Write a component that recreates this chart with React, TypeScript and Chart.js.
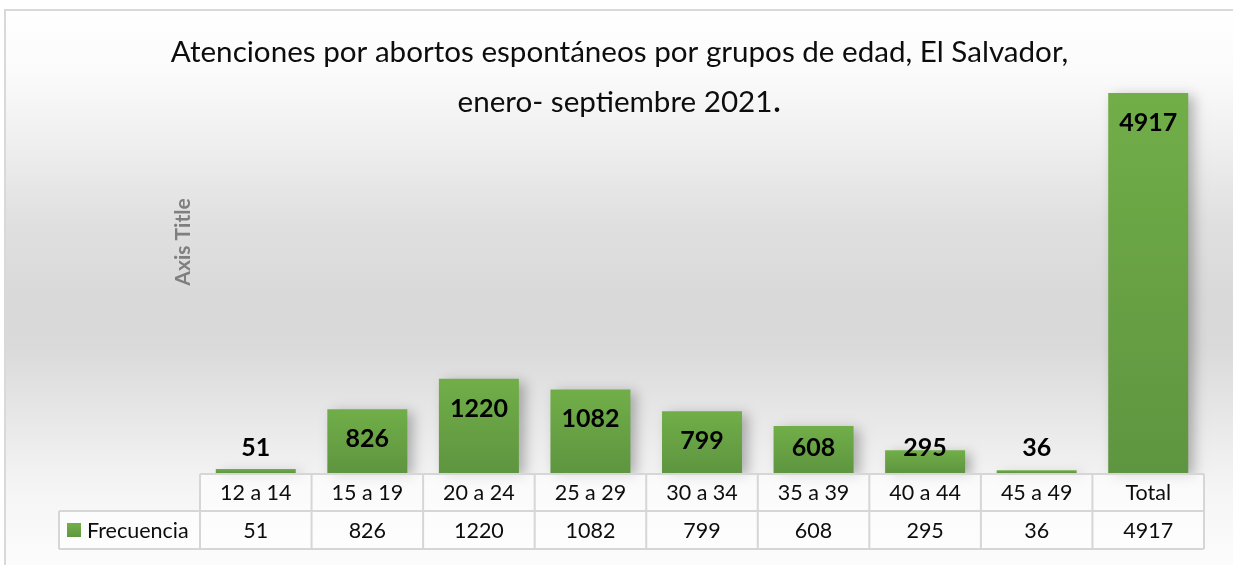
import React, { useEffect, useRef } from 'react';
import { Chart, registerables } from 'chart.js';

Chart.register(...registerables);

const categories = ['12 a 14', '15 a 19', '20 a 24', '25 a 29', '30 a 34', '35 a 39', '40 a 44', '45 a 49', 'Total'];
const frecuencia = [51, 826, 1220, 1082, 799, 608, 295, 36, 4917];
const seriesLabel = 'Frecuencia';
const titleLines = ['Atenciones por abortos espontáneos por grupos de edad, El Salvador,', 'enero- septiembre 2021'];
const titleEnd = '.';
const yAxisTitle = 'Axis Title';

const W = 1233;
const H = 565;
const FONT = 'Lato, "Open Sans", sans-serif';

const GREEN_TOP = '#71ae48';
const GREEN_BOTTOM = '#5e9540';

export default function App() {
  const ref = useRef<HTMLCanvasElement>(null);

  useEffect(() => {
    let chart: Chart | null = null;
    let cancelled = false;

    const make = () => {
      if (!ref.current) return;

      const backgroundPlugin = {
        id: 'bg',
        beforeDraw(c: any) {
          const { ctx } = c;
          ctx.save();
          ctx.fillStyle = '#ffffff';
          ctx.fillRect(0, 0, W, H);
          const g = ctx.createLinearGradient(0, 9, 0, H);
          g.addColorStop(0, '#ffffff');
          g.addColorStop(0.11, '#fbfbfb');
          g.addColorStop(0.25, '#eeeeee');
          g.addColorStop(0.38, '#e0e0e0');
          g.addColorStop(0.52, '#d9d9d9');
          g.addColorStop(0.61, '#dadada');
          g.addColorStop(0.74, '#e8e8e8');
          g.addColorStop(0.865, '#f5f5f5');
          g.addColorStop(1, '#fcfcfc');
          ctx.fillStyle = g;
          ctx.fillRect(5, 10, W, H);
          ctx.strokeStyle = '#d9d9d9';
          ctx.lineWidth = 2;
          ctx.strokeRect(5, 10, W + 20, H + 20);
          ctx.restore();
        },
      };

      const shadowAndLabels = {
        id: 'shadowLabels',
        beforeDatasetsDraw(c: any) {
          const { ctx } = c;
          ctx.save();
          ctx.shadowColor = 'rgba(0,0,0,0.28)';
          ctx.shadowBlur = 12;
          ctx.shadowOffsetX = 6;
          ctx.shadowOffsetY = 3;
        },
        afterDatasetsDraw(c: any) {
          const { ctx } = c;
          ctx.restore();
          const meta = c.getDatasetMeta(0);
          ctx.save();
          ctx.font = `bold 25px ${FONT}`;
          ctx.fillStyle = '#000000';
          ctx.textAlign = 'center';
          ctx.textBaseline = 'middle';
          meta.data.forEach((el: any, i: number) => {
            const y = Math.min(el.y + 30, el.base - 25);
            ctx.fillText(String(frecuencia[i]), el.x, y);
          });
          ctx.restore();
        },
      };

      const titleAndTable = {
        id: 'titleTable',
        afterDraw(c: any) {
          const { ctx, chartArea: area } = c;
          const xs = c.scales.x;
          ctx.save();
          // title
          ctx.fillStyle = '#0d0d0d';
          ctx.font = `29.6px ${FONT}`;
          ctx.textAlign = 'center';
          ctx.textBaseline = 'alphabetic';
          ctx.fillText(titleLines[0], W / 2 + 3, 62);
          const w2 = ctx.measureText(titleLines[1]).width;
          ctx.font = `bold 29.6px ${FONT}`;
          const wDot = ctx.measureText(titleEnd).width;
          const start2 = W / 2 + 2 - (w2 + wDot) / 2;
          ctx.textAlign = 'left';
          ctx.font = `29.6px ${FONT}`;
          ctx.fillText(titleLines[1], start2, 112);
          ctx.font = `bold 29.6px ${FONT}`;
          ctx.fillText(titleEnd, start2 + w2 + 1, 112);

          // vertical axis title
          ctx.save();
          ctx.translate(area.left - 17, 242);
          ctx.rotate(-Math.PI / 2);
          ctx.font = `bold 21px ${FONT}`;
          ctx.fillStyle = '#7f7f7f';
          ctx.textAlign = 'center';
          ctx.textBaseline = 'middle';
          ctx.fillText(yAxisTitle, 0, 0);
          ctx.restore();

          // data table
          const n = categories.length;
          const cw = (area.right - area.left) / n;
          const r0 = area.bottom + 1;
          const r1 = r0 + 37;
          const r2 = r1 + 38;
          const legLeft = area.left - 141;
          ctx.fillStyle = 'rgba(255,255,255,0.6)';
          ctx.fillRect(area.left, r0, area.right - area.left, r2 - r0);
          ctx.fillRect(legLeft, r1, area.left - legLeft, r2 - r1);
          ctx.strokeStyle = '#d6d6d6';
          ctx.lineWidth = 2;
          const line = (a: number, b: number, cc: number, d: number) => {
            ctx.beginPath();
            ctx.moveTo(a, b);
            ctx.lineTo(cc, d);
            ctx.stroke();
          };
          line(area.left, r0, area.right, r0);
          line(legLeft, r1, area.right, r1);
          line(legLeft, r2, area.right, r2);
          line(legLeft, r1, legLeft, r2);
          for (let i = 0; i <= n; i++) {
            const xx = i < n ? xs.getPixelForValue(i) - cw / 2 : area.right;
            line(xx, r0, xx, r2);
          }
          ctx.fillStyle = '#0d0d0d';
          ctx.font = `21.5px ${FONT}`;
          ctx.textAlign = 'center';
          ctx.textBaseline = 'middle';
          const m1 = (r0 + r1) / 2 + 1;
          const m2 = (r1 + r2) / 2 + 1;
          categories.forEach((cat, i) => {
            const cx = xs.getPixelForValue(i);
            ctx.fillText(cat, cx, m1);
            ctx.fillText(String(frecuencia[i]), cx, m2);
          });
          // legend key
          const g = ctx.createLinearGradient(0, m2 - 7, 0, m2 + 7);
          g.addColorStop(0, GREEN_TOP);
          g.addColorStop(1, GREEN_BOTTOM);
          ctx.fillStyle = g;
          ctx.fillRect(legLeft + 8, m2 - 8, 14, 14);
          ctx.fillStyle = '#0d0d0d';
          ctx.textAlign = 'left';
          ctx.fillText(seriesLabel, legLeft + 28, m2);
          ctx.restore();
        },
      };

      chart = new Chart(ref.current, {
        type: 'bar',
        data: {
          labels: categories,
          datasets: [
            {
              label: seriesLabel,
              data: frecuencia,
              clip: false as any,
              backgroundColor: (c: any) => {
                const ch = c.chart;
                const { ctx, chartArea, scales } = ch;
                if (!chartArea || c.type !== 'data' || !scales.y) return GREEN_TOP;
                const yTop = scales.y.getPixelForValue(c.parsed.y);
                const yb = scales.y.getPixelForValue(0);
                if (!isFinite(yTop) || !isFinite(yb) || yb - yTop < 1) return GREEN_TOP;
                const g = ctx.createLinearGradient(0, yTop, 0, yb);
                g.addColorStop(0, GREEN_TOP);
                g.addColorStop(1, GREEN_BOTTOM);
                return g;
              },
              borderWidth: 0,
              categoryPercentage: 1,
              barPercentage: 0.717,
            },
          ],
        },
        options: {
          responsive: false,
          animation: false,
          devicePixelRatio: 1,
          layout: { padding: { top: 93, bottom: 92, left: 200, right: 29 } },
          plugins: {
            legend: { display: false },
            title: { display: false },
            tooltip: { enabled: false },
          },
          scales: {
            x: { display: false, grid: { display: false } },
            y: {
              display: false,
              min: 0,
              max: 4917,
              grid: { display: false, drawTicks: false },
              border: { display: false },
              ticks: { display: false },
            },
          },
        },
        plugins: [backgroundPlugin, shadowAndLabels, titleAndTable],
      });
    };

    const fontsReady: Promise<any> =
      (document as any).fonts && (document as any).fonts.load
        ? Promise.all([
            (document as any).fonts.load(`29px Lato`),
            (document as any).fonts.load(`bold 21px Lato`),
          ]).catch(() => undefined)
        : Promise.resolve();
    fontsReady.then(() => {
      if (!cancelled) make();
    });

    return () => {
      cancelled = true;
      if (chart) chart.destroy();
    };
  }, []);

  return (
    <div style={{ position: 'absolute', left: 0, top: 0, width: W, height: H }}>
      <canvas ref={ref} width={W} height={H} style={{ width: W, height: H, display: 'block' }} />
    </div>
  );
}
